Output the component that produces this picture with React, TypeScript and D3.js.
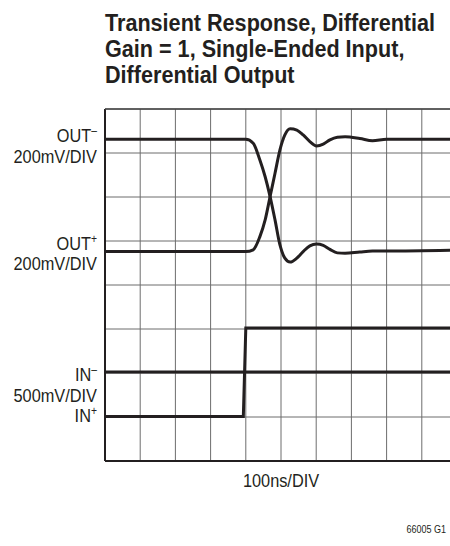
import React from "react";
import * as d3 from "d3";

// time axis: 10 divisions of 100ns
const timeNs = [0, 400, 421, 440, 455, 469, 483, 497, 511, 526, 545, 563, 582, 601, 620, 639, 660, 682, 724, 760, 800, 1000];

// trace levels in screen divisions (0 = bottom graticule line, 8 = top)
const outMinus = [7.31, 7.31, 7.22, 6.84, 6.46, 6.01, 5.48, 4.91, 4.61, 4.52, 4.61, 4.76, 4.89, 4.93, 4.9, 4.81, 4.73, 4.72, 4.75, 4.77, 4.77, 4.79];
const outPlus = [4.76, 4.76, 4.8, 5.1, 5.48, 6.01, 6.54, 7.07, 7.41, 7.55, 7.52, 7.41, 7.26, 7.16, 7.2, 7.3, 7.36, 7.37, 7.33, 7.28, 7.31, 7.31];

const inTime = [0, 393, 400, 1000];
const inPlus = [1.01, 1.01, 3.02, 3.02];
const inMinus = [2.02, 2.02, 2.02, 2.02];

const titleLines = ["Transient Response, Differential", "Gain = 1, Single-Ended Input,", "Differential Output"];

const W = 450;
const H = 546;
const margin = { top: 109, left: 105 };
const divPx = { x: 35.2, y: 44 };
const nX = 10;
const nY = 8;

const font = "'Liberation Sans', Arial, sans-serif";
const ink = "#231f20";
const squeeze = 0.86;

function Cond({ x, y, size = 19, anchor = "end", children }: { x: number; y: number; size?: number; anchor?: string; children: React.ReactNode }) {
  return (
    <text transform={`translate(${x},${y}) scale(${squeeze},1)`} fontSize={size} textAnchor={anchor} fill={ink}>
      {children}
    </text>
  );
}

export default function App() {
  const x = d3.scaleLinear().domain([0, 1000]).range([margin.left, margin.left + nX * divPx.x]);
  const y = d3.scaleLinear().domain([0, nY]).range([margin.top + nY * divPx.y, margin.top]);

  const smooth = d3
    .line<[number, number]>()
    .x((d) => x(d[0]))
    .y((d) => y(d[1]))
    .curve(d3.curveMonotoneX);
  const straight = d3
    .line<[number, number]>()
    .x((d) => x(d[0]))
    .y((d) => y(d[1]));

  const pair = (t: number[], v: number[]) => t.map((tt, i) => [tt, v[i]] as [number, number]);

  const xTicks = d3.range(0, 1001, 100);
  const yTicks = d3.range(0, nY + 1);

  const labelX = 97;
  const sup = (s: string) => (
    <tspan dy={-7} fontSize={12}>
      {s}
    </tspan>
  );

  return (
    <svg width={W} height={H} style={{ position: "absolute", left: 0, top: 0, background: "#fff" }} fontFamily={font}>
      {titleLines.map((t, i) => (
        <text
          key={t}
          transform={`translate(105,${31 + i * 26}) scale(0.9,1)`}
          fontSize={24}
          fontWeight="bold"
          fill={ink}
        >
          {t}
        </text>
      ))}

      {/* graticule */}
      <g stroke="#6d6d6d" strokeWidth={1}>
        {xTicks.map((t) => (
          <line key={"v" + t} x1={x(t)} x2={x(t)} y1={y(0)} y2={y(nY)} />
        ))}
        {yTicks.map((d) => (
          <line key={"h" + d} x1={x(0)} x2={x(1000)} y1={y(d)} y2={y(d)} />
        ))}
      </g>
      <line x1={x(0)} x2={x(0)} y1={y(0)} y2={y(nY)} stroke={ink} strokeWidth={2} />
      <line x1={x(0)} x2={x(1000)} y1={y(0)} y2={y(0)} stroke={ink} strokeWidth={2} />
      <line x1={x(0)} x2={x(1000)} y1={y(nY)} y2={y(nY)} stroke="#444" strokeWidth={1.5} />

      {/* traces */}
      <g fill="none" stroke={ink} strokeWidth={3}>
        <path d={smooth(pair(timeNs, outMinus)) ?? ""} />
        <path d={smooth(pair(timeNs, outPlus)) ?? ""} />
        <path d={straight(pair(inTime, inMinus)) ?? ""} />
        <path d={straight(pair(inTime, inPlus)) ?? ""} />
      </g>

      {/* channel labels */}
      <Cond x={labelX} y={141.5}>OUT{sup("–")}</Cond>
      <Cond x={labelX} y={162.5}>200mV/DIV</Cond>
      <Cond x={labelX} y={250}>OUT{sup("+")}</Cond>
      <Cond x={labelX} y={270}>200mV/DIV</Cond>
      <Cond x={labelX} y={381}>IN{sup("–")}</Cond>
      <Cond x={labelX} y={401.5}>500mV/DIV</Cond>
      <Cond x={labelX} y={422}>IN{sup("+")}</Cond>

      <Cond x={x(500)} y={486.5} anchor="middle">100ns/DIV</Cond>
      <Cond x={446} y={533} size={10.5}>66005 G1</Cond>
    </svg>
  );
}
